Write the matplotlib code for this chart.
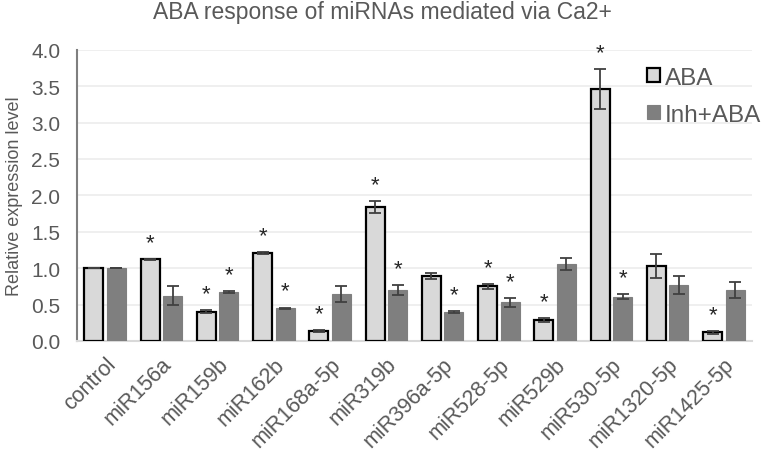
import matplotlib.pyplot as plt
import numpy as np

plt.rcParams['font.family'] = ['Liberation Sans', 'DejaVu Sans']

# Data
labels = ['control', 'miR156a', 'miR159b', 'miR162b', 'miR168a-5p', 'miR319b',
          'miR396a-5p', 'miR528-5p', 'miR529b', 'miR530-5p', 'miR1320-5p', 'miR1425-5p']
aba = [1.00, 1.12, 0.40, 1.21, 0.14, 1.84, 0.89, 0.75, 0.29, 3.46, 1.03, 0.12]
aba_err = [0.00, 0.01, 0.02, 0.01, 0.01, 0.08, 0.04, 0.03, 0.03, 0.27, 0.17, 0.02]
inh = [1.00, 0.62, 0.67, 0.45, 0.65, 0.70, 0.40, 0.53, 1.06, 0.61, 0.77, 0.70]
inh_err = [0.00, 0.13, 0.01, 0.01, 0.11, 0.07, 0.01, 0.06, 0.08, 0.04, 0.12, 0.11]
aba_sig = [0, 1, 1, 1, 1, 1, 0, 1, 1, 1, 0, 1]
inh_sig = [0, 0, 1, 1, 0, 1, 1, 1, 0, 1, 0, 0]

x = np.arange(len(labels))
w = 0.34
off = 0.2

fig = plt.figure(figsize=(7.65, 4.56), dpi=100)
ax = fig.add_axes([77 / 765, 114 / 456, 675 / 765, 291.3 / 456])

ax.bar(x - off, aba, w, color='#d9d9d9', edgecolor='black', linewidth=1.6,
       label='ABA', zorder=3)
ax.bar(x + off, inh, w, color='#7f7f7f', edgecolor='#7f7f7f', linewidth=0.8,
       label='Inh+ABA', zorder=3)
ax.errorbar(x - off, aba, yerr=aba_err, fmt='none', ecolor='#404040',
            elinewidth=1.3, capsize=4, capthick=1.3, zorder=4)
ax.errorbar(x + off, inh, yerr=inh_err, fmt='none', ecolor='#404040',
            elinewidth=1.3, capsize=4, capthick=1.3, zorder=4)

# significance stars
for i in range(len(labels)):
    if aba_sig[i]:
        ax.text(x[i] - off, aba[i] + aba_err[i] + 0.08, '*', ha='center',
                va='bottom', fontsize=16, color='#262626')
    if inh_sig[i]:
        ax.text(x[i] + off, inh[i] + inh_err[i] + 0.08, '*', ha='center',
                va='bottom', fontsize=16, color='#262626')

ax.set_xlim(-0.5, len(labels) - 0.5)
ax.set_ylim(0, 4.0)
ax.set_yticks(np.arange(0, 4.01, 0.5))
ax.set_yticklabels(['%.1f' % v for v in np.arange(0, 4.01, 0.5)])
ax.set_xticks(x)
ax.set_xticklabels(labels, rotation=45, ha='right', rotation_mode='anchor')
ax.tick_params(axis='both', length=0, labelsize=15.5, colors='#595959')
ax.tick_params(axis='y', pad=12, labelsize=15)
ax.tick_params(axis='x', pad=9)
ax.grid(axis='y', color='#ececec', linewidth=1.2, zorder=0)
ax.set_axisbelow(True)
for s in ['top', 'right']:
    ax.spines[s].set_visible(False)
ax.spines['left'].set_color('#7f7f7f')
ax.spines['left'].set_linewidth(1.5)
ax.spines['bottom'].set_color('#d9d9d9')
ax.spines['bottom'].set_linewidth(1.5)

ax.set_ylabel('Relative expression level', fontsize=13, color='#595959', labelpad=6)
fig.text(0.5, 1 - 19 / 456, 'ABA response of miRNAs mediated via Ca2+', ha='center',
         va='baseline', fontsize=16.5, color='#595959')

leg = ax.legend(loc='upper right', bbox_to_anchor=(1.028, 0.975), frameon=False,
                fontsize=17.5, handlelength=0.55, handleheight=0.55,
                handletextpad=0.2, labelspacing=0.62, borderaxespad=0)
for t in leg.get_texts():
    t.set_color('#595959')

fig.savefig('out.png', dpi=100)
